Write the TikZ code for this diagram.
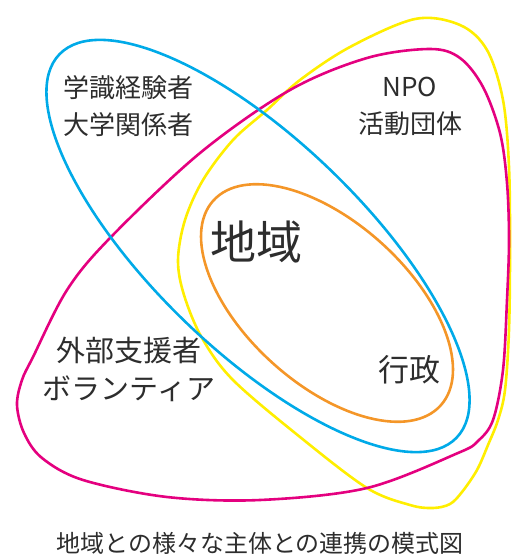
\documentclass[tikz,border=0pt]{standalone}
\usepackage{fontspec}
\setmainfont{Noto Sans CJK JP}
\definecolor{cblue}{RGB}{0,170,232}
\definecolor{cmag}{RGB}{228,0,127}
\definecolor{cyel}{RGB}{255,238,0}
\definecolor{corg}{RGB}{244,150,40}
\definecolor{ctxt}{RGB}{45,45,45}
\tikzset{
  ring/.style={line width=2.6pt},
  lbl/.style={text=ctxt, inner sep=0pt, align=center},
}
\begin{document}
\begin{tikzpicture}[x=1pt,y=-1pt]
\useasboundingbox (0,0) rectangle (512,556);
% yellow
\draw[ring, cyel] plot[smooth cycle, tension=0.55] coordinates {
 (415,19) (460,25) (487,50) (503,100) (509,167) (510,250) (509,330) (505,390)
 (498,420) (488,445) (477,470) (462,492) (450,504) (433,508) (410,505)
 (367,488) (300,437) (233,380) (202,338) (184,295) (178,260)
 (185,220) (203,180) (233,140) (267,110) (300,80) (350,47)};
% magenta
\draw[ring, cmag] plot[smooth cycle, tension=0.55] coordinates {
 (430,49) (460,58) (483,87) (500,133) (507,183) (509,240) (507,300) (503,370)
 (493,420) (478,441) (458,453) (367,488) (260,500) (167,497) (83,480)
 (42,458) (24,433) (17,405) (22,380) (33,357) (67,290) (110,238) (200,153)
 (290,90) (367,58)};
% blue
\draw[ring, cblue, rotate around={-44:(258,246)}] (258,246) ellipse [x radius=276, y radius=105];
% orange
\draw[ring, corg, rotate around={-42:(327,303)}] (327,303) ellipse [x radius=153, y radius=81];
% labels
\node[lbl, font=\fontsize{26}{37}\selectfont] (gak) at (128,106) {学識経験者\\大学関係者};
\node[lbl, font=\fontsize{26}{37}\selectfont] (npo) at (410,106) {NPO\\活動団体};
\node[lbl, font=\fontsize{46}{50}\selectfont] (chi) at (256,242) {地域};
\node[lbl, font=\fontsize{29}{38}\selectfont] (gai) at (129,369) {外部支援者\\ボランティア};
\node[lbl, font=\fontsize{31}{36}\selectfont] (gyo) at (409,370) {行政};
\node[lbl, font=\fontsize{24}{28}\selectfont] (cap) at (260,543) {地域との様々な主体との連携の模式図};
\end{tikzpicture}
\end{document}
